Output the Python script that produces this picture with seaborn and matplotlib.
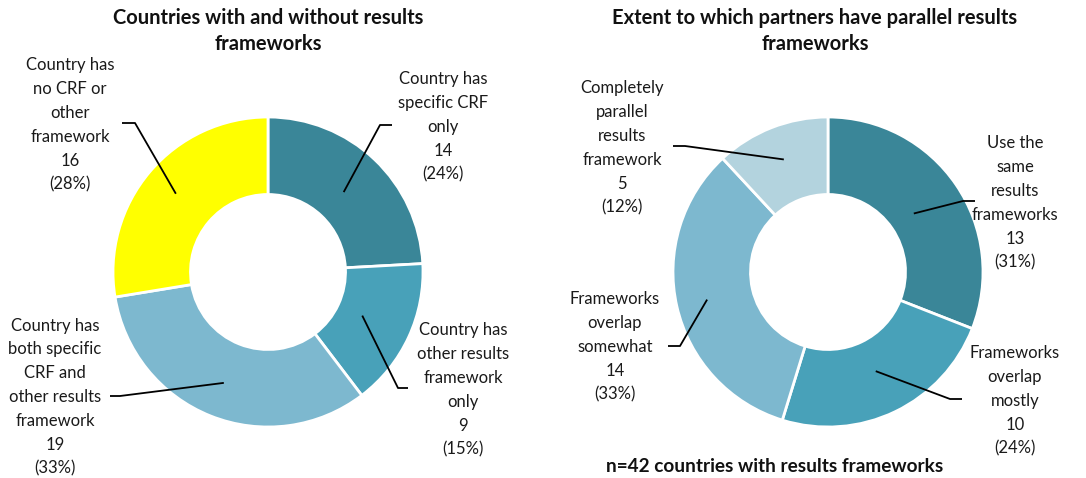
import numpy as np
import matplotlib
matplotlib.use("Agg")
import matplotlib.pyplot as plt
import seaborn as sns

# data
left_labels = ["Country has\nspecific CRF\nonly", "Country has\nother results\nframework\nonly",
               "Country has\nboth specific\nCRF and\nother results\nframework", "Country has\nno CRF or\nother\nframework"]
left_values = [14, 9, 19, 16]
left_pcts = ["24%", "15%", "33%", "28%"]

right_labels = ["Use the\nsame\nresults\nframeworks", "Frameworks\noverlap\nmostly",
                "Frameworks\noverlap\nsomewhat", "Completely\nparallel\nresults\nframework"]
right_values = [13, 10, 14, 5]
right_pcts = ["31%", "24%", "33%", "12%"]

left_colors = ["#3A8698", "#48A1B9", "#7DB8CF", "#FFFF00"]
right_colors = ["#3A8698", "#48A1B9", "#7DB8CF", "#B3D3DE"]

sns.set_theme(style="white")
plt.rcParams['font.family'] = ['Lato', 'DejaVu Sans']

W, H = 1086, 478
fig = plt.figure(figsize=(W / 100, H / 100), dpi=100)
ax = fig.add_axes([0, 0, 1, 1])
ax.set_xlim(0, W)
ax.set_ylim(0, H)
ax.set_aspect('equal')
ax.axis('off')

def py(y):
    # pixel row (from top) to axis y
    return H - y

R = 155

def donut(center, values, labels, pcts, colors, text_pos, elbows, ends, radii):
    cx, cy = center
    wedges, _ = ax.pie(values, colors=colors, startangle=90, counterclock=False,
                       center=(cx, py(cy)), radius=R, frame=True,
                       wedgeprops=dict(width=R * 0.5, edgecolor='white', linewidth=2))
    total = sum(values)
    cum = np.cumsum([0] + values)
    for i, v in enumerate(values):
        mid = np.deg2rad(90 - (cum[i] + v / 2) / total * 360)
        r = radii[i] * R
        px0 = cx + r * np.cos(mid)
        py0 = py(cy) + r * np.sin(mid)
        ex, ey = elbows[i]
        nx, ny = ends[i]
        ax.plot([px0, ex, nx], [py0, py(ey), py(ny)], color='black', lw=1.3,
                solid_capstyle='butt')
        tx, ty = text_pos[i]
        ax.text(tx, py(ty), f"{labels[i]}\n{v}\n({pcts[i]})", ha='center', va='center',
                fontsize=12, linespacing=1.6, color='#1a1a1a')

donut((268, 272), left_values, left_labels, left_pcts, left_colors,
      text_pos=[(443, 127), (463, 390), (55, 397), (70, 125)],
      elbows=[(380, 125), (398, 388), (120, 396), (135, 123)],
      ends=[(392, 125), (408, 388), (110, 396), (122, 123)],
      radii=[0.71, 0.67, 0.77, 0.78])

donut((828, 272), right_values, right_labels, right_pcts, right_colors,
      text_pos=[(1015, 203), (1015, 401), (615, 347), (622, 148)],
      elbows=[(963, 201), (950, 399), (680, 346), (685, 146)],
      ends=[(975, 201), (962, 399), (668, 346), (673, 146)],
      radii=[0.67, 0.71, 0.80, 0.78])

ax.set_xlim(0, W)
ax.set_ylim(0, H)

ax.text(268, py(31), "Countries with and without results\nframeworks", ha='center', va='center',
        fontsize=14.5, fontweight='bold', linespacing=1.4, color='#111111')
ax.text(815, py(31), "Extent to which partners have parallel results\nframeworks", ha='center', va='center',
        fontsize=14.5, fontweight='bold', linespacing=1.4, color='#111111')
ax.text(775, py(467), "n=42 countries with results frameworks", ha='center', va='center',
        fontsize=13.7, fontweight='bold', color='#111111')

fig.savefig("out.png", dpi=100)
